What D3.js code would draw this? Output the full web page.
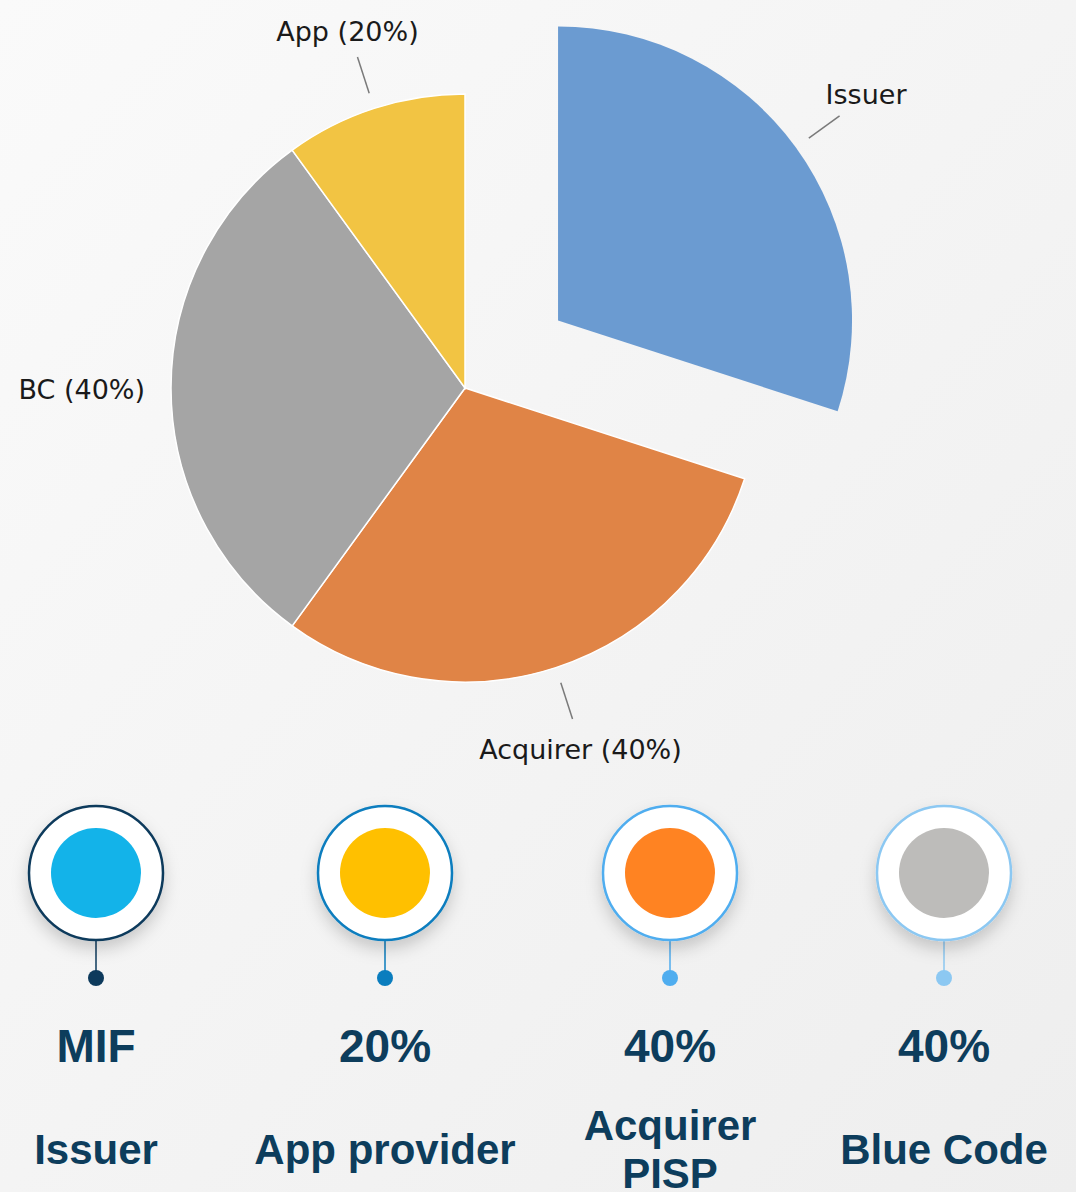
<!DOCTYPE html>
<html>
<head>
<meta charset="utf-8">
<script src="https://cdn.jsdelivr.net/npm/d3@7"></script>
<style>
  html, body { margin: 0; padding: 0; }
  body { width: 1076px; height: 1192px; overflow: hidden; }
</style>
</head>
<body>
<div id="chart-area"></div>
<script>
// Pie data
const sliceNames = ['Issuer', 'Acquirer', 'BC', 'App'];
const sliceValues = [30, 30, 30, 10];
const sliceLabels = ['Issuer', 'Acquirer (40%)', 'BC (40%)', 'App (20%)'];
const sliceColors = ['#6b9bd1', '#e08446', '#a5a5a5', '#f2c443'];

// MIF split rows
const mifValues = ['MIF', '20%', '40%', '40%'];
const mifRoles = [['Issuer'], ['App provider'], ['Acquirer', 'PISP'], ['Blue Code']];
const ringColors = ['#0d3a5c', '#0a7dbe', '#4fadef', '#8cc8f2'];
const dotColors = ['#13b3e9', '#ffc000', '#ff8322', '#bdbcba'];

const width = 1076;
const height = 1192;

const svg = d3.select('#chart-area')
    .append('svg')
    .attr('width', width)
    .attr('height', height);

const defs = svg.append('defs');

// background gradient
const bg = defs.append('linearGradient')
    .attr('id', 'bg')
    .attr('x1', '0').attr('y1', '0')
    .attr('x2', '1').attr('y2', '1');
bg.append('stop').attr('offset', '0%').attr('stop-color', '#fafafa');
bg.append('stop').attr('offset', '100%').attr('stop-color', '#eeeeee');

const shadow = defs.append('filter')
    .attr('id', 'shadow')
    .attr('x', '-50%').attr('y', '-50%')
    .attr('width', '200%').attr('height', '200%');
shadow.append('feDropShadow')
    .attr('dx', 0).attr('dy', 8)
    .attr('stdDeviation', 8)
    .attr('flood-color', '#000')
    .attr('flood-opacity', 0.18);

svg.append('rect')
    .attr('width', width)
    .attr('height', height)
    .attr('fill', 'url(#bg)');

// ---- Pie ----
const cx = 465, cy = 388;
const radius = 294;
const explodeBy = 115;

const pie = d3.pie().sort(null).value((d, i) => sliceValues[i]);
const arcs = pie(sliceNames);

const arc = d3.arc().innerRadius(0).outerRadius(radius);
const lineInner = d3.arc().innerRadius(310).outerRadius(310);
const lineOuter = d3.arc().innerRadius(348).outerRadius(348);

const g = svg.append('g')
    .attr('transform', 'translate(' + cx + ', ' + cy + ')');

// offset for the pulled-out slice (first one)
const offset = (d, i) => {
    if (i !== 0) return [0, 0];
    const a = (d.startAngle + d.endAngle) / 2;
    return [Math.sin(a) * explodeBy, -Math.cos(a) * explodeBy];
};

const slices = g.selectAll('.slice')
    .data(arcs)
    .enter()
    .append('g')
    .attr('class', 'slice')
    .attr('transform', (d, i) => 'translate(' + offset(d, i).join(',') + ')');

slices.append('path')
    .attr('d', arc)
    .attr('fill', (d, i) => sliceColors[i])
    .attr('stroke', (d, i) => i === 0 ? 'none' : '#ffffff')
    .attr('stroke-width', 1.5);

// leader lines and labels
slices.each(function(d, i) {
    const sel = d3.select(this);
    const a = (d.startAngle + d.endAngle) / 2;
    const p0 = lineInner.centroid(d);
    const p1 = lineOuter.centroid(d);
    const horizontal = Math.abs(Math.cos(a)) < 0.2;

    if (!horizontal) {
        sel.append('line')
            .attr('x1', p0[0]).attr('y1', p0[1])
            .attr('x2', p1[0]).attr('y2', p1[1])
            .attr('stroke', '#7a7a7a')
            .attr('stroke-width', 1.5);
    }

    let x, y, anchor;
    if (horizontal) {
        x = Math.sin(a) * 320;
        y = 11;
        anchor = Math.sin(a) > 0 ? 'start' : 'end';
    } else if (Math.abs(Math.sin(a)) > 0.6) {
        x = p1[0] - 14;
        y = p1[1] - 12;
        anchor = 'start';
    } else if (Math.cos(a) > 0) {
        x = p1[0] - 10;
        y = p1[1] - 16;
        anchor = 'middle';
    } else {
        x = p1[0] + 8;
        y = p1[1] + 40;
        anchor = 'middle';
    }

    sel.append('text')
        .attr('x', x)
        .attr('y', y)
        .attr('text-anchor', anchor)
        .attr('font-family', 'DejaVu Sans, Verdana, sans-serif')
        .attr('font-size', '27px')
        .attr('fill', '#1a1a1a')
        .text(sliceLabels[i]);
});

// ---- Bottom row ----
const x = d3.scaleOrdinal()
    .domain(mifValues.map((d, i) => i))
    .range([96, 385, 670, 944]);

const ringY = 873;
const ringR = 67;
const dotR = 45;
const pinY = 978;

const cols = svg.selectAll('.col')
    .data(mifValues)
    .enter()
    .append('g')
    .attr('class', 'col')
    .attr('transform', (d, i) => 'translate(' + x(i) + ', 0)');

cols.append('line')
    .attr('x1', 0).attr('x2', 0)
    .attr('y1', ringY + ringR)
    .attr('y2', pinY)
    .attr('stroke', (d, i) => ringColors[i])
    .attr('stroke-width', 1.5);

cols.append('circle')
    .attr('cy', pinY)
    .attr('r', 8)
    .attr('fill', (d, i) => ringColors[i]);

cols.append('circle')
    .attr('cy', ringY)
    .attr('r', ringR)
    .attr('fill', '#ffffff')
    .attr('stroke', (d, i) => ringColors[i])
    .attr('stroke-width', 2.5)
    .attr('filter', 'url(#shadow)');

cols.append('circle')
    .attr('cy', ringY)
    .attr('r', dotR)
    .attr('fill', (d, i) => dotColors[i]);

cols.append('text')
    .attr('y', 1062)
    .attr('text-anchor', 'middle')
    .attr('font-family', 'Liberation Sans, Arial, sans-serif')
    .attr('font-weight', 'bold')
    .attr('font-size', '46px')
    .attr('fill', '#0d3d5c')
    .text((d) => d);

cols.append('text')
    .attr('text-anchor', 'middle')
    .attr('font-family', 'Liberation Sans, Arial, sans-serif')
    .attr('font-weight', 'bold')
    .attr('font-size', '42px')
    .attr('fill', '#0d3d5c')
    .each(function(d, i) {
        const lines = mifRoles[i];
        const y0 = lines.length > 1 ? 1140 : 1164;
        lines.forEach((t, k) => {
            d3.select(this).append('tspan')
                .attr('x', 0)
                .attr('y', y0 + k * 48)
                .text(t);
        });
    });
</script>
</body>
</html>
